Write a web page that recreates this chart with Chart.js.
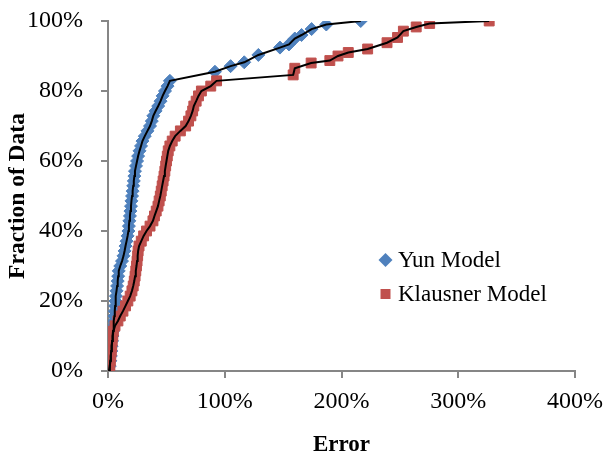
<!DOCTYPE html>
<html><head><meta charset="utf-8">
<script src="https://cdn.jsdelivr.net/npm/chart.js@4/dist/chart.umd.min.js"></script>
<style>html,body{margin:0;padding:0;background:#fff;}#wrap{width:605px;height:457px;}</style>
</head><body><div id="wrap"><canvas id="c" width="605" height="457"></canvas></div>
<script>
const seriesNames = ['Yun Model', 'Klausner Model'];
const xTickValues = [0, 100, 200, 300, 400];
const yTickValues = [0, 20, 40, 60, 80, 100];

const yunError = [0.8,1.5,2.0,2.4,2.8,3.1,3.5,3.9,4.3,4.7,5.1,5.5,5.8,6.1,6.4,6.8,7.3,7.8,8.3,8.7,9.2,10.5,12.0,13.3,14.2,15.0,15.9,16.8,17.5,17.9,18.3,18.8,19.2,19.7,20.1,20.6,21.1,21.6,22.1,22.6,23.1,24.0,24.9,25.8,27.0,28.3,29.5,31.5,33.8,36.0,37.5,38.8,40.8,43.0,45.0,46.8,48.8,51.0,53.0,
  91.6,105.0,116.7,128.8,147.3,155.0,160.0,165.8,174.4,187.0,216.5];
const yunFraction = [0.0,1.4,2.9,4.3,5.7,7.1,8.6,10.0,11.4,12.9,14.3,15.7,17.1,18.6,20.0,21.4,22.9,24.3,25.7,27.1,28.6,30.0,31.4,32.9,34.3,35.7,37.1,38.6,40.0,41.4,42.9,44.3,45.7,47.1,48.6,50.0,51.4,52.9,54.3,55.7,57.1,58.6,60.0,61.4,62.9,64.3,65.7,67.1,68.6,70.0,71.4,72.9,74.3,75.7,77.1,78.6,80.0,81.4,82.9,
  85.5,87.1,88.2,90.3,92.4,93.3,95.0,96.0,97.7,99.0,100.0];

const klausnerError = [1.0,1.6,2.0,2.4,2.8,3.2,3.6,4.1,4.6,6.0,8.5,10.5,12.8,15.0,17.0,19.0,20.5,21.6,22.5,23.2,23.8,24.4,24.9,25.4,25.8,26.6,28.5,30.5,33.0,36.0,38.5,39.8,41.3,42.8,43.8,44.8,45.6,46.4,47.2,48.0,48.7,49.4,50.1,50.8,51.6,53.0,55.0,57.5,62.0,66.5,69.0,71.0,72.5,73.5,75.5,77.5,80.0,88.0,93.0,
  158.6,160.0,174.0,190.0,197.0,205.8,222.4,239.0,248.0,253.0,264.0,275.5,326.5];
const klausnerFraction = [0.0,1.4,2.9,4.3,5.7,7.1,8.6,10.0,11.4,12.9,14.3,15.7,17.1,18.6,20.0,21.4,22.9,24.3,25.7,27.1,28.6,30.0,31.4,32.9,34.3,35.7,37.1,38.6,40.0,41.4,42.9,44.3,45.7,47.1,48.6,50.0,51.4,52.9,54.3,55.7,57.1,58.6,60.0,61.4,62.9,64.3,65.7,67.1,68.6,70.0,71.4,72.9,74.3,75.7,77.1,78.6,80.0,81.4,82.9,
  84.6,86.5,88.0,88.7,90.0,91.0,92.0,93.8,95.3,97.1,98.3,99.3,100.0];

const toPoints = (xs, ys) => xs.map((x, i) => ({x: x, y: ys[i]}));
const yunPts = toPoints(yunError, yunFraction);
const klaPts = toPoints(klausnerError, klausnerFraction);

const FONT = 'Liberation Serif, Times New Roman, serif';
const AXIS = '#868686';

const legendPlugin = {
  id: 'innerLegend',
  afterDraw(chart) {
    const ctx = chart.ctx;
    const items = chart.data.datasets.filter(d => d.legendIndex !== undefined).sort((a, b) => a.legendIndex - b.legendIndex);
    const x0 = 385.5, y0 = 260, dy = 34;
    ctx.save();
    ctx.font = '23px ' + FONT;
    ctx.textBaseline = 'middle';
    items.forEach((d, i) => {
      const cy = y0 + i * dy;
      ctx.fillStyle = d.backgroundColor;
      ctx.beginPath();
      if (d.pointStyle === 'rectRot') {
        const r = 7;
        ctx.moveTo(x0, cy - r); ctx.lineTo(x0 + r, cy); ctx.lineTo(x0, cy + r); ctx.lineTo(x0 - r, cy); ctx.closePath();
      } else {
        ctx.rect(x0 - 5, cy - 5, 10, 10);
      }
      ctx.fill();
      ctx.fillStyle = '#000';
      ctx.fillText(d.label, 398, cy + 1);
    });
    ctx.restore();
  }
};

new Chart(document.getElementById('c'), {
  type: 'scatter',
  data: {
    datasets: [
      {label: seriesNames[0] + ' line', data: yunPts, showLine: true, borderColor: '#000', borderWidth: 2, pointRadius: 0, fill: false, order: 0},
      {label: seriesNames[1] + ' line', data: klaPts, showLine: true, borderColor: '#000', borderWidth: 2, pointRadius: 0, fill: false, order: 0},
      {label: seriesNames[1], legendIndex: 1, data: klaPts, pointStyle: 'rect', pointRadius: 7, backgroundColor: '#C0504D', borderColor: '#C0504D', borderWidth: 1, showLine: false, order: 1},
      {label: seriesNames[0], legendIndex: 0, data: yunPts, pointStyle: 'rectRot', pointRadius: 6.5, backgroundColor: '#4F81BD', borderColor: '#4F81BD', borderWidth: 1, showLine: false, order: 2}
    ]
  },
  options: {
    responsive: false,
    animation: false,
    devicePixelRatio: 1,
    layout: {padding: {left: 0, right: 30, top: 21, bottom: 0}},
    plugins: {legend: {display: false}, tooltip: {enabled: false}},
    scales: {
      x: {
        type: 'linear', min: 0, max: 400,
        afterBuildTicks: s => { s.ticks = xTickValues.map(v => ({value: v})); },
        afterFit: s => { s.height = 86; s.paddingLeft = 0; s.paddingRight = 0; },
        ticks: {callback: v => v + '%', font: {family: FONT, size: 24}, color: '#000', padding: 9, maxRotation: 0},
        grid: {drawOnChartArea: false, drawTicks: true, tickLength: 7, color: AXIS, lineWidth: 2},
        border: {display: true, color: AXIS, width: 2},
        title: {display: true, text: 'Error', font: {family: FONT, size: 23, weight: 'bold', lineHeight: 1.0}, color: '#000', padding: {top: 0, bottom: 0}}
      },
      y: {
        type: 'linear', min: 0, max: 100,
        afterBuildTicks: s => { s.ticks = yTickValues.map(v => ({value: v})); },
        afterFit: s => { s.width = 108; s.paddingTop = 0; s.paddingBottom = 0; },
        ticks: {callback: v => v + '%', font: {family: FONT, size: 24}, color: '#000', padding: 18},
        grid: {drawOnChartArea: false, drawTicks: true, tickLength: 7, color: AXIS, lineWidth: 2},
        border: {display: true, color: AXIS, width: 2},
        title: {display: true, text: 'Fraction of Data', font: {family: FONT, size: 23.5, weight: 'bold'}, color: '#000', padding: {top: 4, bottom: 0}}
      }
    }
  },
  plugins: [legendPlugin]
});
</script>
</body></html>
